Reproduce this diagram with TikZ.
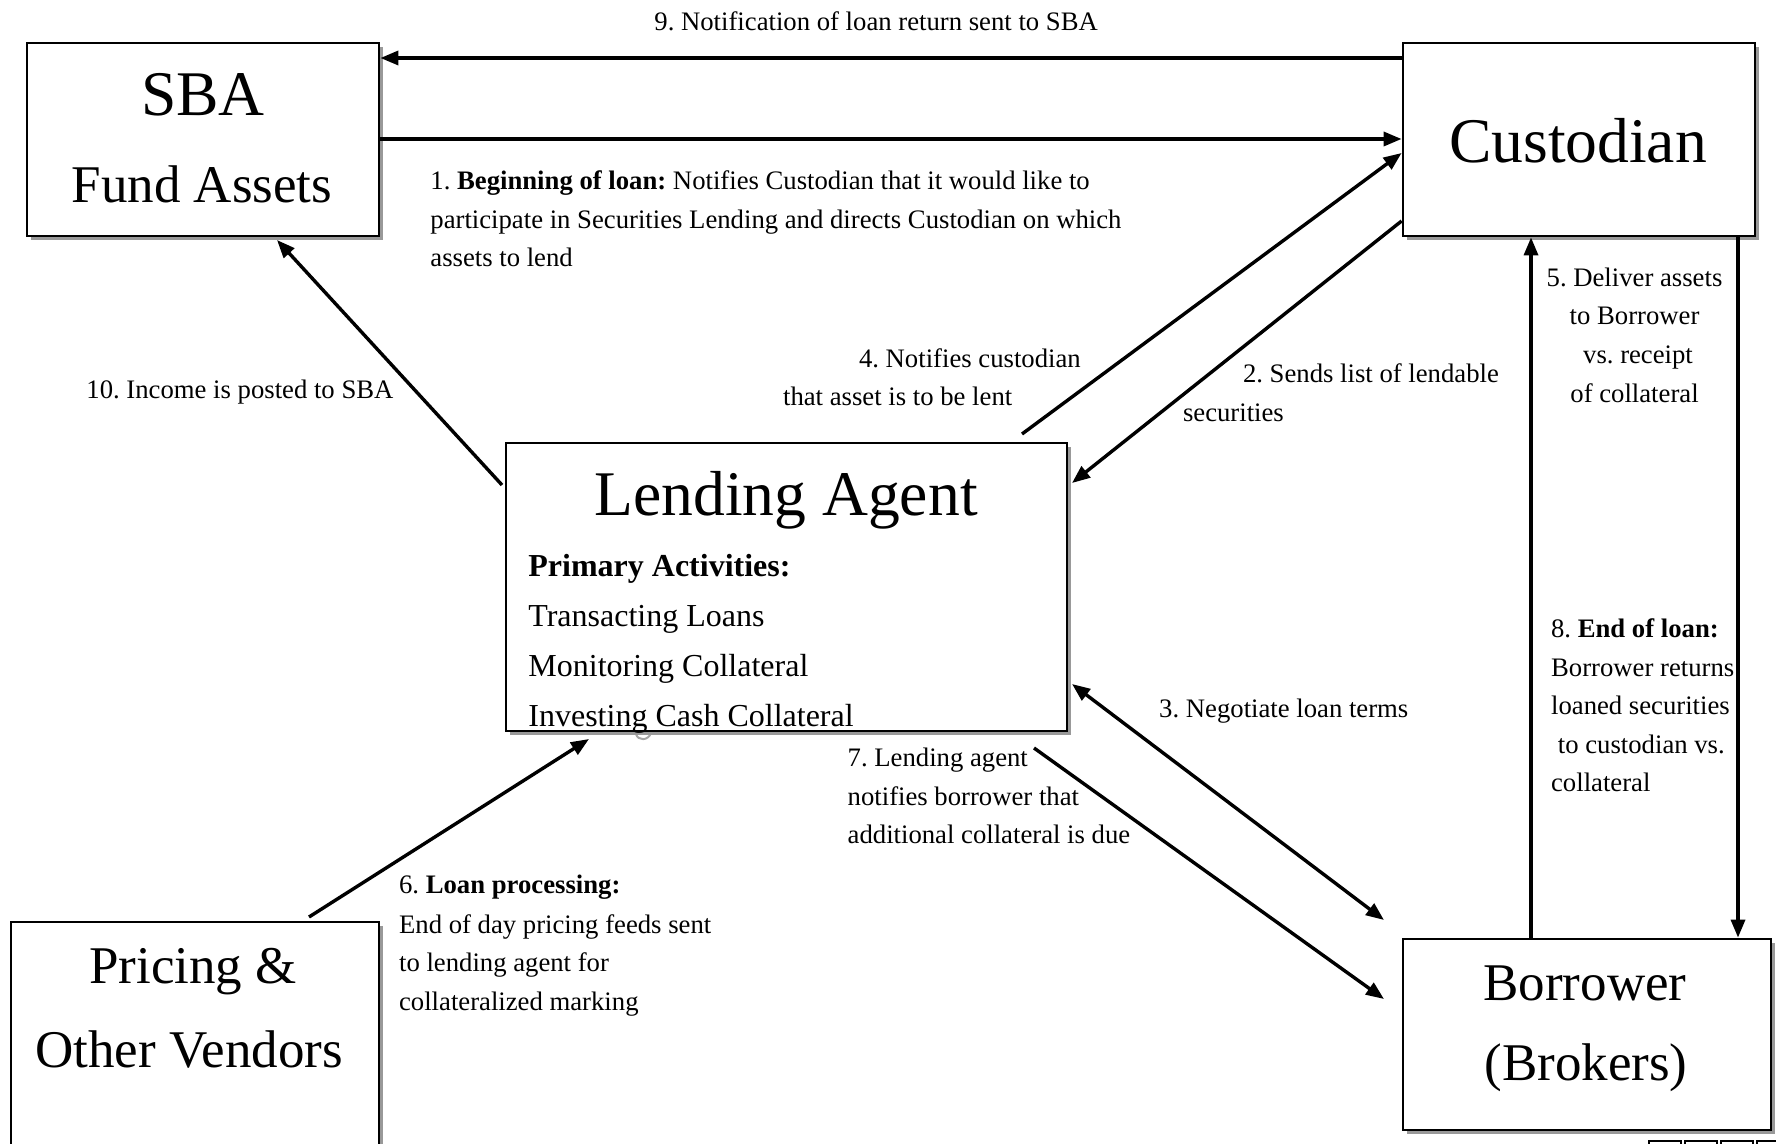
\documentclass[tikz,border=0pt]{standalone}
\usepackage{fontspec}
\setmainfont{Liberation Serif}
\usetikzlibrary{arrows.meta,shadows}
\frenchspacing
\newcommand\lblfont{\fontsize{13.35}{19.3}\selectfont}
\newcommand\bigttlfont{\fontsize{31.8}{38}\selectfont}
\newcommand\subttlfont{\fontsize{26.5}{32}\selectfont}
\newcommand\lagbodyfont{\fontsize{16}{24.9}\selectfont}
\begin{document}
\begin{tikzpicture}[x=0.5pt,y=-0.5pt,
  box/.style={draw,line width=1.4pt,fill=white,inner sep=0pt,
    drop shadow={shadow xshift=2pt,shadow yshift=-2pt,fill=black!40,opacity=1}},
  conn/.style={line width=1.7pt,-{Triangle[length=9pt,width=7pt]}},
  dconn/.style={line width=1.7pt,{Triangle[length=9pt,width=7pt]}-{Triangle[length=9pt,width=7pt]}},
  lbl/.style={anchor=base west,inner sep=0pt,font=\lblfont},
  lblc/.style={anchor=base,inner sep=0pt,font=\lblfont},
  ttl/.style={anchor=base,inner sep=0pt,font=\bigttlfont},
  subttl/.style={anchor=base,inner sep=0pt,font=\subttlfont},
  body/.style={anchor=base west,inner sep=0pt,font=\lagbodyfont}]
\useasboundingbox (0,0) rectangle (1776,1144);
\clip (0,0) rectangle (1776,1144);

% faint grey stroke under the lending agent box
\draw[black!35,line width=1pt] (636,734) .. controls (638,741) and (648,741) .. (651,733);

% boxes
\node[box,minimum width=176pt,minimum height=96.5pt] (sba) at (203,139.5) {};
\node[box,minimum width=176pt,minimum height=96.5pt] (cust) at (1579,139.5) {};
\node[box,minimum width=280.5pt,minimum height=144pt] (lag) at (786.5,587) {};
\node[box,minimum width=184pt,minimum height=124pt] (pri) at (195,1046) {};
\node[box,minimum width=184pt,minimum height=95.5pt] (bor) at (1587,1034.5) {};

% box texts
\node[ttl] (tsba) at (203,116) {SBA};
\node[subttl] (tfund) at (202,203) {Fund Assets};
\node[ttl] (tcust) at (1578,163) {Custodian};
\node[ttl] (tlag) at (786,515) {Lending Agent};
\node[body] (tpa) at (528,576.5) {\textbf{Primary Activities:}};
\node[body] (ttl1) at (528,626.4) {Transacting Loans};
\node[body] (ttl2) at (528,676.2) {Monitoring Collateral};
\node[body] (ttl3) at (528,726) {Investing Cash Collateral};
\node[subttl] (tpri1) at (193,983) {Pricing \&};
\node[subttl] (tpri2) at (189,1067) {Other Vendors};
\node[subttl] (tbor1) at (1585,1000) {Borrower};
\node[subttl] (tbor2) at (1586,1080) {(Brokers)};

% connector end points
\coordinate (a4s) at (1022,434);
\coordinate (a2e) at (1072,483);
\coordinate (a10s) at (502,485);
\coordinate (a10e) at (277,240);
\coordinate (a3s) at (1072,684);
\coordinate (a3e) at (1384,920);
\coordinate (a7s) at (1034,748);
\coordinate (a7e) at (1384,999);
\coordinate (a6s) at (309,917);
\coordinate (a6e) at (589,739);

% connectors
\draw[conn] (cust.west |- 0,58) -- (sba.east |- 0,58);
\draw[conn] (sba.east |- 0,139) -- (cust.west |- 0,139);
\draw[conn] (a4s) -- (cust.west |- 0,153);
\draw[conn] (cust.west |- 0,221) -- (a2e);
\draw[conn] (a10s) -- (a10e);
\draw[dconn] (a3s) -- (a3e);
\draw[conn] (a7s) -- (a7e);
\draw[conn] (a6s) -- (a6e);
\draw[conn] (bor.north -| 1531,0) -- (cust.south -| 1531,0);
\draw[conn] (cust.south -| 1738,0) -- (bor.north -| 1738,0);

% labels
\node[lbl] (l9) at (654,30.6) {9. Notification of loan return sent to SBA};
\node[lbl] (l1a) at (430,190) {1. \textbf{Beginning of loan:} Notifies Custodian that it would like to};
\node[lbl] (l1b) at (430,229) {participate in Securities Lending and directs Custodian on which};
\node[lbl] (l1c) at (430,267) {assets to lend};
\node[lbl] (l10) at (86,399) {10. Income is posted to SBA};
\node[lbl] (l4a) at (858.6,367) {4. Notifies custodian};
\node[lbl] (l4b) at (782.7,405.5) {that asset is to be lent};
\node[lbl] (l2a) at (1242.6,383) {2. Sends list of lendable};
\node[lbl] (l2b) at (1182.6,421) {securities};
\node[lblc] (l5a) at (1634.5,286.6) {5. Deliver assets};
\node[lblc] (l5b) at (1634.5,325) {to Borrower};
\node[lblc] (l5c) at (1638,363.6) {vs. receipt};
\node[lblc] (l5d) at (1634.5,402) {of collateral};
\node[lbl] (l8a) at (1550.7,637.7) {8. \textbf{End of loan:}};
\node[lbl] (l8b) at (1550.7,676) {Borrower returns};
\node[lbl] (l8c) at (1550.7,714.7) {loaned securities};
\node[lbl] (l8d) at (1557.5,753) {to custodian vs.};
\node[lbl] (l8e) at (1550.7,791.8) {collateral};
\node[lbl] (l3) at (1158.8,717) {3. Negotiate loan terms};
\node[lbl] (l7a) at (847.3,766.8) {7. Lending agent};
\node[lbl] (l7b) at (847.3,805.4) {notifies borrower that};
\node[lbl] (l7c) at (847.3,843.9) {additional collateral is due};
\node[lbl] (l6a) at (398.7,893.7) {6. \textbf{Loan processing:}};
\node[lbl] (l6b) at (398.7,933.3) {End of day pricing feeds sent};
\node[lbl] (l6c) at (398.7,971.9) {to lending agent for};
\node[lbl] (l6d) at (398.7,1010.4) {collateralized marking};

% small cut-off squares at the bottom right
\draw[line width=1pt,fill=white] (1649,1141) rectangle (1681,1180);
\draw[line width=1pt,fill=white] (1685,1141) rectangle (1717,1180);
\draw[line width=1pt,fill=white] (1721,1141) rectangle (1753,1180);
\draw[line width=1pt,fill=white] (1757,1141) rectangle (1789,1180);
\end{tikzpicture}
\end{document}
